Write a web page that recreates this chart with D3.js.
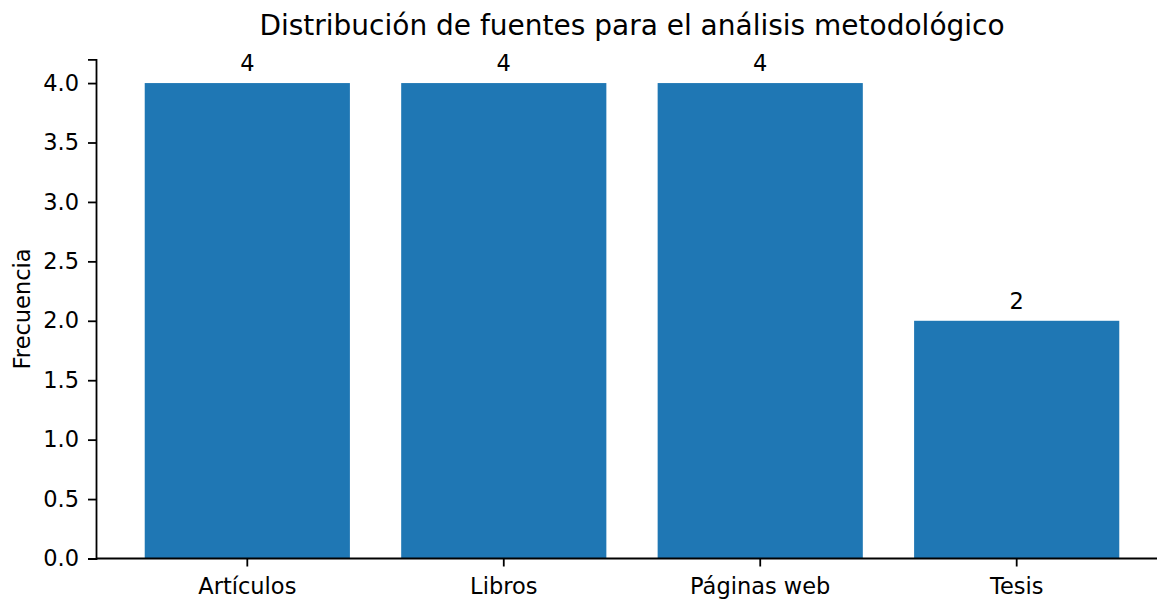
<!DOCTYPE html>
<html>
<head>
<meta charset="utf-8">
<script src="https://cdn.jsdelivr.net/npm/d3@7"></script>
<style>
  body { margin: 0; background: #fff; }
  svg { display: block; }
  svg text { font-family: "DejaVu Sans", sans-serif; }
</style>
</head>
<body>
<div id="chart"></div>
<script>
var categories = ["Artículos", "Libros", "Páginas web", "Tesis"];
var values = [4, 4, 4, 2];
var yTicks = [0, 0.5, 1.0, 1.5, 2.0, 2.5, 3.0, 3.5, 4.0];
var title = "Distribución de fuentes para el análisis metodológico";
var yLabel = "Frecuencia";

var width = 1157, height = 599;
var margin = {left: 96, top: 59.3, bottom: 40, right: -11};

var svg = d3.select("#chart")
  .append("svg")
  .attr("width", width)
  .attr("height", height);

var x = d3.scaleBand()
  .domain(categories)
  .range([margin.left, width - margin.right])
  .paddingInner(0.2)
  .paddingOuter(0.19);

var y = d3.scaleLinear()
  .domain([0, 4.2])
  .range([height - margin.bottom - 0.5, margin.top]);

// bars
svg.append("g")
  .selectAll("rect")
  .data(values)
  .enter()
  .append("rect")
    .attr("x", (d, i) => x(categories[i]))
    .attr("width", x.bandwidth())
    .attr("y", d => y(d))
    .attr("height", d => y(0) - y(d))
    .attr("fill", "#1f77b4");

// value labels
svg.append("g")
  .selectAll("text")
  .data(values)
  .enter()
  .append("text")
    .attr("x", (d, i) => x(categories[i]) + x.bandwidth() / 2)
    .attr("y", d => y(d) - 12)
    .attr("text-anchor", "middle")
    .style("font-size", "22.5px")
    .attr("fill", "#000")
    .text(d => d);

var xAxis = g => g
  .attr("transform", `translate(0,${y(0)})`)
  .call(d3.axisBottom(x).tickSizeOuter(0).tickSize(8).tickPadding(12))
  .call(g => g.select(".domain").attr("stroke-width", 1.8).attr("d", `M${margin.left},0H${width}`))
  .call(g => g.selectAll(".tick line").attr("stroke-width", 1.8))
  .call(g => g.selectAll(".tick text").style("font-size", "22.5px").attr("fill", "#000"));

var yAxis = g => g
  .attr("transform", `translate(${margin.left},0)`)
  .call(d3.axisLeft(y).tickValues(yTicks).tickFormat(d3.format(".1f")).tickSizeOuter(0).tickSize(8).tickPadding(9))
  .call(g => g.select(".domain").attr("stroke-width", 1.8))
  .call(g => g.selectAll(".tick line").attr("stroke-width", 1.8))
  .call(g => g.selectAll(".tick text").style("font-size", "22.5px").attr("fill", "#000"));

svg.append("g").call(xAxis);
svg.append("g").call(yAxis);

// y label
svg.append("text")
  .attr("transform", `translate(30,${(y(0) + y(4.2)) / 2}) rotate(-90)`)
  .attr("text-anchor", "middle")
  .style("font-size", "22.5px")
  .text(yLabel);

// title
svg.append("text")
  .attr("x", (margin.left + width - margin.right) / 2)
  .attr("y", 35)
  .attr("text-anchor", "middle")
  .style("font-size", "28px")
  .text(title);
</script>
</body>
</html>
